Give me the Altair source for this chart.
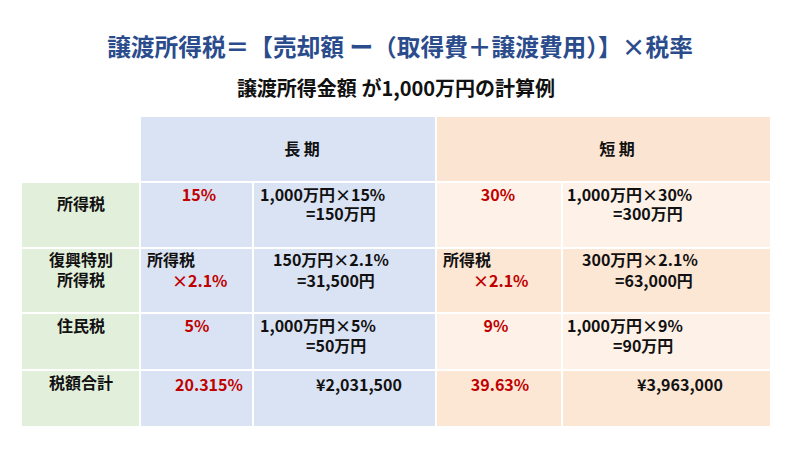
import altair as alt
import pandas as pd

# ---------------- data ----------------
title = "譲渡所得税＝【売却額 ー（取得費＋譲渡費用）】×税率"
subtitle = "譲渡所得金額 が1,000万円の計算例"
terms = ["長 期", "短 期"]
row_labels = [["所得税"], ["復興特別", "所得税"], ["住民税"], ["税額合計"]]
long_rate = [["15%"], ["所得税", "×2.1%"], ["5%"], ["20.315%"]]
long_calc = [["1,000万円×15%", "=150万円"], ["150万円×2.1%", "=31,500円"],
             ["1,000万円×5%", "=50万円"], ["¥2,031,500"]]
short_rate = [["30%"], ["所得税", "×2.1%"], ["9%"], ["39.63%"]]
short_calc = [["1,000万円×30%", "=300万円"], ["300万円×2.1%", "=63,000円"],
              ["1,000万円×9%", "=90万円"], ["¥3,963,000"]]

# ---------------- layout (pixel grid of the table) ----------------
col_edges = [22, 140, 253, 436, 562, 770]
row_edges = [117, 182, 248, 313, 370, 427]
GAP = 1

GREEN = "#E2EFDA"
BLUE = "#DAE3F3"
PEACH_HEAD = "#FBE4D2"
PEACH_DARK = "#FCE6D4"
PEACH_LIGHT = "#FEF2E8"
RED = "#C00000"
BLACK = "#111111"
NAVY = "#2B4C8C"

rects = []
# header cells
rects.append(dict(x=col_edges[1] + GAP, x2=col_edges[3] - GAP,
                  y=row_edges[0], y2=row_edges[1] - GAP, fill=BLUE))
rects.append(dict(x=col_edges[3] + GAP, x2=col_edges[5],
                  y=row_edges[0], y2=row_edges[1] - GAP, fill=PEACH_HEAD))
for r in range(4):
    y0, y1 = row_edges[r + 1] + GAP, row_edges[r + 2] - GAP
    peach = PEACH_LIGHT if r % 2 == 0 else PEACH_DARK
    fills = [GREEN, BLUE, BLUE, peach, peach]
    for c in range(5):
        x0 = col_edges[c] + (GAP if c > 0 else 0)
        x1 = col_edges[c + 1] - (GAP if c < 4 else 0)
        rects.append(dict(x=x0, x2=x1, y=y0, y2=y1, fill=fills[c]))
rect_df = pd.DataFrame(rects)

# line y positions per body row
line_y = [[196, 215], [261, 282], [327, 347], [386]]
label_y = [[205], [261, 281], [327], [384]]

texts = []
def add(t, x, y, align, color=BLACK, size=16):
    texts.append(dict(text=t, x=x, y=y, align=align, color=color, size=size))

add(title, 400, 49, "center", NAVY, 23.7)
add(subtitle, 396, 90, "center", BLACK, 20)
add(terms[0], 302, 150, "center")
add(terms[1], 617, 150, "center")

# row labels (centered in green column)
for r, lines in enumerate(row_labels):
    for i, t in enumerate(lines):
        add(t, 81, label_y[r][i], "center")

# rate columns
rate_center_x = [[199], [None], [197], [209]]
short_center_x = [[498], [None], [496], [500]]
for r in range(4):
    if len(long_rate[r]) == 1:
        add(long_rate[r][0], rate_center_x[r][0], line_y[r][0], "center", RED)
        add(short_rate[r][0], short_center_x[r][0], line_y[r][0], "center", RED)
    else:
        add(long_rate[r][0], 147, line_y[r][0], "left")
        add(long_rate[r][1], 172, line_y[r][1], "left", RED)
        add(short_rate[r][0], 443, line_y[r][0], "left")
        add(short_rate[r][1], 473, line_y[r][1], "left", RED)

long_calc_x = [[260, 306], [273, 297], [260, 306], [316]]
short_calc_x = [[567, 613], [582, 615], [567, 613], [637]]
for r in range(4):
    for i, t in enumerate(long_calc[r]):
        add(t, long_calc_x[r][i], line_y[r][i], "left")
    for i, t in enumerate(short_calc[r]):
        add(t, short_calc_x[r][i], line_y[r][i], "left")

text_df = pd.DataFrame(texts)

xs = alt.Scale(domain=[8, 792], range=[0, 784], nice=False, zero=False)
ys = alt.Scale(domain=[442, 8], nice=False, zero=False)

FONT = "Noto Sans CJK JP"

base_rect = alt.Chart(rect_df).mark_rect().encode(
    x=alt.X("x:Q", scale=xs, axis=None),
    x2="x2:Q",
    y=alt.Y("y:Q", scale=ys, axis=None),
    y2="y2:Q",
    color=alt.Color("fill:N", scale=None, legend=None),
)

def text_layer(align):
    return alt.Chart(text_df[text_df["align"] == align]).mark_text(
        font=FONT, fontWeight="bold", align=align, baseline="middle"
    ).encode(
        x=alt.X("x:Q", scale=xs, axis=None),
        y=alt.Y("y:Q", scale=ys, axis=None),
        text="text:N",
        color=alt.Color("color:N", scale=None, legend=None),
        size=alt.Size("size:Q", scale=None, legend=None),
    )

chart = alt.layer(base_rect, text_layer("center"), text_layer("left")).properties(
    width=784, height=434, padding=0, autosize="none", background="white"
).configure_view(stroke=None)

chart.save("out.html", embed_options={"renderer": "svg", "actions": False})
